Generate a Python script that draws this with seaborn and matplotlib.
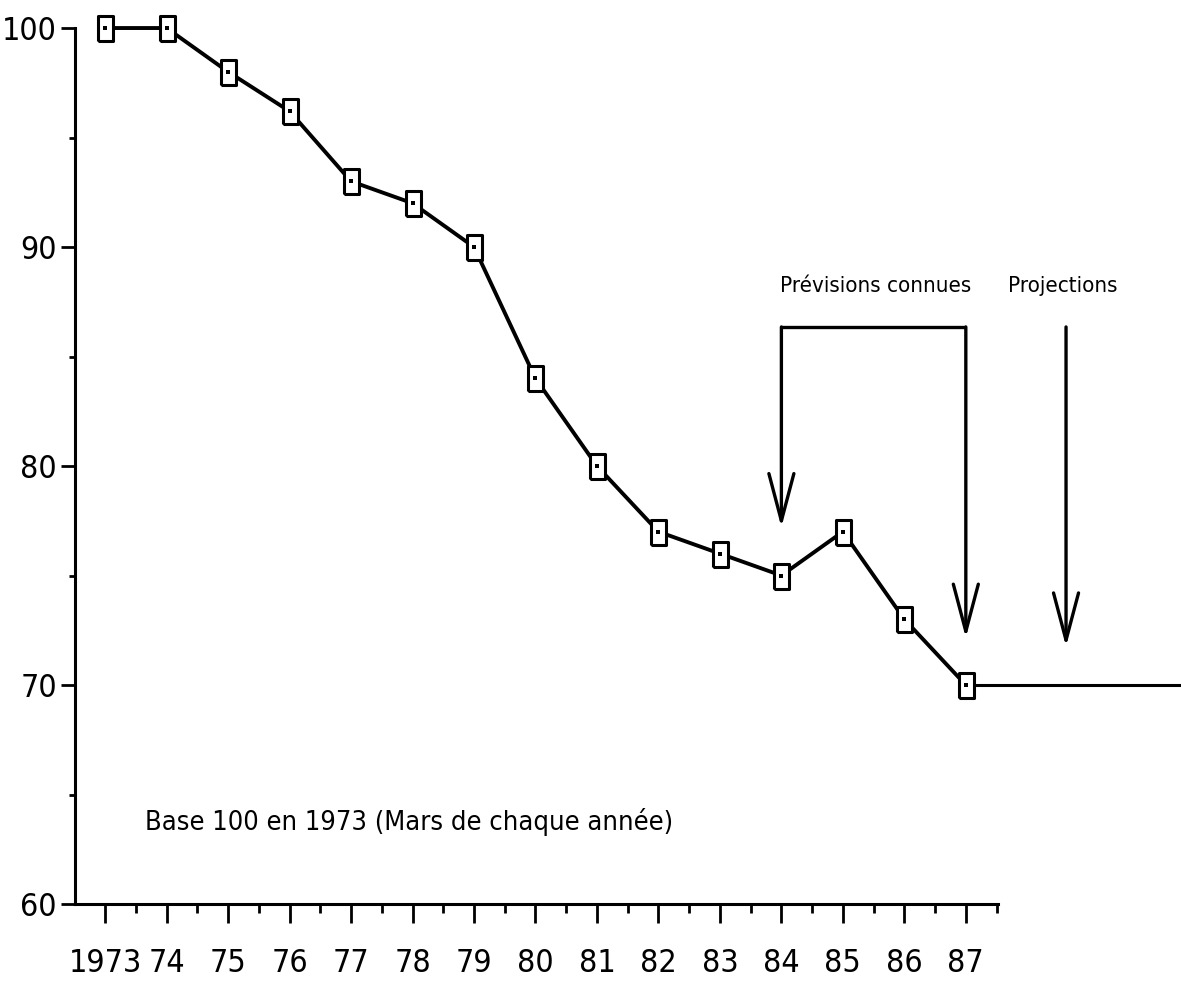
import numpy as np
import pandas as pd
import matplotlib.pyplot as plt
import seaborn as sns

# Données (indice, base 100 en 1973, mars de chaque année)
annees = [1973, 1974, 1975, 1976, 1977, 1978, 1979, 1980,
          1981, 1982, 1983, 1984, 1985, 1986, 1987]
indice = [100, 100, 98, 96.2, 93, 92, 90, 84, 80, 77, 76, 75, 77, 73, 70]
etiquettes = ['1973', '74', '75', '76', '77', '78', '79', '80',
              '81', '82', '83', '84', '85', '86', '87']

# Projection à plat après 1987
proj_annees = [1987, 1990.5]
proj_indice = [70, 70]

sns.set_theme(style="white")
plt.rcParams['font.family'] = ['DejaVu Sans']
plt.rcParams['font.stretch'] = 'condensed'
plt.rcParams['text.color'] = 'black'
plt.rcParams['xtick.labelcolor'] = 'black'
plt.rcParams['ytick.labelcolor'] = 'black'

fig = plt.figure(figsize=(11.81, 9.91), dpi=100)
ax = fig.add_axes([75 / 1181, 87 / 991, 1106 / 1181, 904 / 991])

df = pd.DataFrame({'annee': annees, 'indice': indice})
rect = [(-0.3, -0.5), (0.3, -0.5), (0.3, 0.5), (-0.3, 0.5), (-0.3, -0.5)]

sns.lineplot(data=pd.DataFrame({'annee': proj_annees, 'indice': proj_indice}),
             x='annee', y='indice', ax=ax, color='black', linewidth=2.2)
sns.lineplot(data=df, x='annee', y='indice', ax=ax, color='black', linewidth=2.8,
             marker=rect, markersize=18, markerfacecolor='white',
             markeredgecolor='black', markeredgewidth=2.2)
sns.scatterplot(data=df, x='annee', y='indice', ax=ax, color='black',
                s=6, marker='s', linewidth=0, zorder=4)

# Flèches "Prévisions connues" et "Projections"
fleche = dict(arrowstyle='->,head_length=3.4,head_width=0.9', color='black',
              lw=2.4, shrinkA=0, shrinkB=0, mutation_scale=10)
haut = 86.35
ax.plot([1984, 1987], [haut, haut], color='black', lw=2.4, solid_capstyle='butt')
ax.annotate('', xy=(1984, 77.2), xytext=(1984, haut), arrowprops=fleche)
ax.annotate('', xy=(1987, 72.15), xytext=(1987, haut), arrowprops=fleche)
ax.annotate('', xy=(1988.63, 71.75), xytext=(1988.63, haut), arrowprops=fleche)

ax.text(1983.98, 87.95, 'Prévisions connues', fontsize=16, ha='left', va='baseline')
ax.text(1987.68, 87.95, 'Projections', fontsize=16, ha='left', va='baseline')
ax.text(1973.65, 63.4, 'Base 100 en 1973 (Mars de chaque année)', fontsize=19.5,
        ha='left', va='baseline')

# Axes
ax.set_xlim(1972.51, 1990.5)
ax.set_ylim(60, 101.28)
ax.set_xticks(annees)
ax.set_xticklabels(etiquettes)
ax.set_xticks(np.arange(1973.5, 1988, 1.0), minor=True)
ax.set_yticks([60, 70, 80, 90, 100])
ax.set_yticks([65, 75, 85, 95], minor=True)
ax.tick_params(axis='both', which='both', direction='out', color='black', width=2)
ax.tick_params(axis='x', which='major', length=14, pad=18, labelsize=23)
ax.tick_params(axis='x', which='minor', length=6.5)
ax.tick_params(axis='y', which='major', length=10, pad=3, labelsize=23)
ax.tick_params(axis='y', which='minor', length=4)
ax.tick_params(bottom=True, left=True, which='both')

sns.despine(ax=ax)
ax.spines['left'].set_bounds(60, 100)
ax.spines['bottom'].set_bounds(1972.51, 1987.52)
for s in ['left', 'bottom']:
    ax.spines[s].set_linewidth(2.2)
    ax.spines[s].set_color('black')

ax.set_xlabel('')
ax.set_ylabel('')
ax.grid(False)

fig.savefig('out.png', dpi=100)
